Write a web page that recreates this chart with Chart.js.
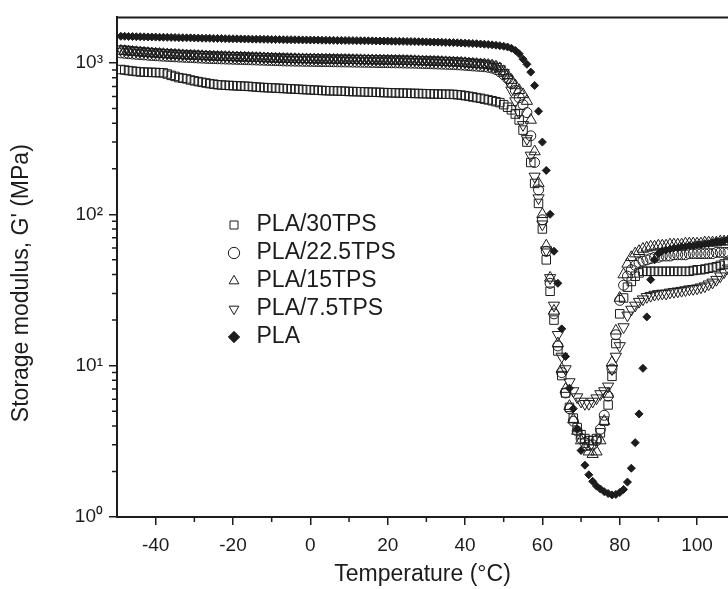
<!DOCTYPE html>
<html>
<head>
<meta charset="utf-8">
<script src="https://cdn.jsdelivr.net/npm/chart.js@4.4.1/dist/chart.umd.min.js"></script>
<style>
html,body{margin:0;padding:0;background:#fff;}
#wrap{width:728px;height:589px;position:relative;}
</style>
</head>
<body>
<div id="wrap"><canvas id="c" width="728" height="589"></canvas></div>
<script>
// ---------------- data ----------------
const temperature = [
-49,-48,-47,-46,-45,-44,-43,-42,-41,-40,
-39,-38,-37,-36,-35,-34,-33,-32,-31,-30,
-29,-28,-27,-26,-25,-24,-23,-22,-21,-20,
-19,-18,-17,-16,-15,-14,-13,-12,-11,-10,
-9,-8,-7,-6,-5,-4,-3,-2,-1,0,
1,2,3,4,5,6,7,8,9,10,
11,12,13,14,15,16,17,18,19,20,
21,22,23,24,25,26,27,28,29,30,
31,32,33,34,35,36,37,38,39,40,
41,42,43,44,45,46,47,48,49,50,
51,52,53,54,55,56,57,58,59,60,
61,62,63,64,65,66,67,68,69,70,
71,72,73,74,75,76,77,78,79,80,
81,82,83,84,85,86,87,88,89,90,
91,92,93,94,95,96,97,98,99,100,
101,102,103,104,105,106,107,108
];

const seriesNames = ['PLA/30TPS', 'PLA/22.5TPS', 'PLA/15TPS', 'PLA/7.5TPS', 'PLA'];

const pla30TPS = [
905,898,890,884,878,873,870,868,866,865,
862,860,845,828,815,800,792,785,772,762,
753,745,737,730,724,718,715,712,710,708,
706,704,702,700,697,693,690,688,686,684,
682,680,678,676,674,672,670,668,666,664,
662,660,658,656,655,654,653,652,650,648,
647,646,645,644,642,641,640,639,637,636,
635,634,633,632,631,630,629,628,627,626,
625,624,623,622,622,621,620,617,613,608,
602,596,590,584,577,570,563,555,547,530,
510,490,460,420,360,300,220,160,118,80,
50,31,20,12.5,8.6,6.6,5.3,4.5,3.9,3.5,
3.3,3.2,3.2,3.3,3.6,4.3,5.5,8.5,14,22,
28,33,36,39,41,42,42,42,42,42,
42,42,42,42,42,42,42,42,42.5,43,
43,43.5,44,44.5,45,46,47,48
];

const pla225TPS = [
1165,1158,1152,1146,1140,1135,1130,1125,1120,1116,
1112,1108,1104,1100,1097,1094,1091,1088,1085,1082,
1079,1076,1073,1070,1068,1066,1064,1062,1060,1058,
1056,1054,1052,1050,1048,1046,1044,1042,1040,1038,
1036,1034,1032,1030,1029,1028,1027,1026,1025,1024,
1023,1022,1021,1020,1019,1018,1017,1016,1015,1014,
1013,1012,1011,1010,1009,1008,1007,1006,1005,1004,
1003,1002,1001,1000,998,997,996,994,992,990,
988,986,984,982,980,978,975,972,969,965,
960,956,952,948,944,936,925,905,875,835,
790,730,660,590,530,470,330,220,145,92,
57,35,22,13.5,9,6.6,5.2,4.3,3.7,3.3,
3.1,3.0,3.0,3.2,3.8,4.7,6.3,9.5,16,27,
34,39,43,46,48,49,50,51,52,52,
53,53,53,54,54,54,54,55,55,55,
55,55,55,55,56,56,56,56
];

const pla15TPS = [
1200,1195,1188,1182,1176,1170,1165,1160,1155,1150,
1146,1142,1138,1134,1130,1126,1122,1119,1116,1113,
1110,1107,1104,1101,1098,1096,1094,1092,1090,1088,
1086,1084,1082,1080,1078,1076,1074,1072,1070,1068,
1066,1064,1062,1060,1059,1058,1057,1056,1055,1054,
1053,1052,1051,1050,1049,1048,1047,1046,1045,1044,
1043,1042,1041,1040,1039,1038,1037,1036,1035,1034,
1033,1032,1031,1030,1028,1027,1026,1024,1022,1020,
1018,1016,1014,1012,1010,1008,1005,1002,999,995,
990,986,982,978,975,968,960,945,920,880,
830,770,710,660,620,560,420,260,160,100,
62,38,23,14,9.5,7,5.4,4.4,3.7,3.2,
2.9,2.7,2.6,2.7,3.2,4.3,6.5,10.5,17,28,
40,47,52,55,57,59,60,61,61,62,
62,62,63,63,63,63,64,64,64,64,
64,65,65,65,65,66,66,66
];

const pla75TPS = [
1235,1228,1220,1213,1206,1200,1194,1188,1183,1178,
1173,1168,1164,1160,1156,1152,1148,1145,1142,1139,
1136,1133,1130,1127,1124,1122,1120,1118,1116,1114,
1112,1110,1108,1106,1104,1102,1100,1098,1096,1094,
1092,1090,1088,1086,1085,1084,1083,1082,1081,1080,
1079,1078,1077,1076,1075,1074,1073,1072,1071,1070,
1069,1068,1067,1066,1065,1064,1063,1062,1061,1060,
1059,1058,1057,1056,1055,1053,1051,1049,1047,1045,
1043,1041,1039,1037,1035,1032,1029,1026,1022,1018,
1013,1008,1003,997,990,980,965,945,910,860,
780,660,560,470,390,315,245,178,128,86,
58,38,25,16,11.5,9.5,7.8,6.8,6.2,5.8,
5.6,5.6,5.8,6.1,6.5,6.8,7.3,9.5,11.5,13.5,
18,21.5,23.5,25,26.5,27.5,28.5,29,29.5,29.8,
30,30,30.5,30.8,31,31.3,31.6,32,32.2,32.5,
33,33.5,34.5,35.5,37,39,41.5,44
];

const plaNeat = [
1500,1500,1495,1495,1490,1490,1488,1485,1485,1482,
1480,1478,1476,1475,1473,1470,1468,1466,1465,1462,
1460,1458,1456,1455,1453,1451,1450,1448,1446,1445,
1443,1442,1440,1439,1437,1436,1435,1433,1432,1430,
1429,1428,1426,1425,1424,1423,1421,1420,1419,1418,
1417,1416,1414,1413,1412,1411,1410,1409,1408,1407,
1405,1404,1403,1402,1401,1400,1398,1397,1396,1395,
1393,1392,1390,1389,1387,1386,1384,1382,1380,1378,
1376,1374,1372,1370,1367,1365,1362,1359,1356,1352,
1348,1344,1340,1335,1330,1324,1317,1309,1300,1290,
1275,1250,1210,1150,1060,980,870,710,480,300,
195,100,57,35,17.5,11.5,7.1,5.2,3.8,2.75,
2.2,1.9,1.72,1.6,1.53,1.47,1.43,1.4,1.41,1.45,
1.52,1.7,2.1,3.1,4.8,9.6,21,37,50,55,
57,58,59,60,60,61,61,62,62,63,
63,64,64,65,66,66,67,68
];

const xTickValues = [-40, -20, 0, 20, 40, 60, 80, 100];
const xMinorTicks = [-30, -10, 10, 30, 50, 70, 90];
const yTickValues = [1, 10, 100, 1000];
const yTickLabels = ['10\u2070', '10\u00B9', '10\u00B2', '10\u00B3'];
const yMinorTicks = [2,3,4,5,6,7,8,9,20,30,40,50,60,70,80,90,200,300,400,500,600,700,800,900];

// ---------------- chart ----------------
const FONT = "'Liberation Sans', Arial, Helvetica, sans-serif";
const INK = '#1c1c1c';
Chart.defaults.font.family = FONT;
Chart.defaults.color = INK;

const toPoints = vals => temperature.map((t, i) => ({x: t, y: vals[i]}));

const frameExtras = {
  id: 'frameExtras',
  afterDraw(chart) {
    const {ctx, chartArea: {left, right, top, bottom}, scales: {x, y}} = chart;
    ctx.save();
    ctx.strokeStyle = INK;
    ctx.lineWidth = 2;
    ctx.beginPath();
    ctx.moveTo(left - 1, top);
    ctx.lineTo(right, top);
    ctx.stroke();
    ctx.lineWidth = 1.5;
    ctx.beginPath();
    yMinorTicks.forEach(v => {
      const py = y.getPixelForValue(v);
      ctx.moveTo(left - 5, py);
      ctx.lineTo(left, py);
    });
    xMinorTicks.forEach(v => {
      const px = x.getPixelForValue(v);
      ctx.moveTo(px, bottom);
      ctx.lineTo(px, bottom + 5);
    });
    ctx.stroke();
    ctx.restore();
  }
};

const legendPlacer = {
  id: 'legendPlacer',
  afterUpdate(chart) {
    const lg = chart.legend;
    if (!lg) return;
    const w = lg.width, h = lg.height;
    lg.left = 218; lg.top = 208.5;
    lg.right = lg.left + w; lg.bottom = lg.top + h;
  }
};

const common = {pointBorderWidth: 1, pointBorderColor: INK, showLine: false, pointHoverRadius: 0};

new Chart(document.getElementById('c'), {
  type: 'scatter',
  data: {
    datasets: [
      Object.assign({label: seriesNames[0], data: toPoints(pla30TPS), pointStyle: 'rect', pointRadius: 6,
        pointBackgroundColor: 'rgba(255,255,255,0)'}, common),
      Object.assign({label: seriesNames[1], data: toPoints(pla225TPS), pointStyle: 'circle', pointRadius: 5,
        pointBackgroundColor: 'rgba(255,255,255,0)'}, common),
      Object.assign({label: seriesNames[2], data: toPoints(pla15TPS), pointStyle: 'triangle', pointRadius: 6.5,
        pointBackgroundColor: 'rgba(255,255,255,0)'}, common),
      Object.assign({label: seriesNames[3], data: toPoints(pla75TPS), pointStyle: 'triangle', pointRotation: 180, pointRadius: 6.5,
        pointBackgroundColor: 'rgba(255,255,255,0)'}, common),
      Object.assign({label: seriesNames[4], data: toPoints(plaNeat), pointStyle: 'rectRot', pointRadius: 4,
        pointBackgroundColor: INK}, common)
    ]
  },
  options: {
    responsive: false,
    animation: false,
    devicePixelRatio: 1,
    events: [],
    layout: {autoPadding: false, padding: {left: 0, right: 0, top: 14, bottom: 0}},
    plugins: {
      tooltip: {enabled: false},
      legend: {
        display: true,
        position: 'chartArea',
        align: 'start',
        labels: {
          usePointStyle: true,
          boxWidth: 22,
          boxHeight: 8,
          padding: 5,
          color: INK,
          font: {size: 23, family: FONT}
        }
      }
    },
    scales: {
      x: {
        type: 'linear',
        position: 'bottom',
        min: -50,
        max: 108,
        afterBuildTicks: s => { s.ticks = xTickValues.map(v => ({value: v})); },
        afterFit: s => { s.height = 72; s.paddingLeft = 0; s.paddingRight = 0; },
        ticks: {
          autoSkip: false, maxRotation: 0, padding: 9,
          font: {size: 19, family: FONT}, color: INK,
          callback: v => String(v)
        },
        grid: {display: true, drawOnChartArea: false, drawTicks: true, tickLength: 8, color: INK, lineWidth: 1.5},
        border: {display: true, color: INK, width: 2},
        title: {display: true, text: 'Temperature (\u00B0C)', color: INK, font: {size: 23, family: FONT}, padding: {top: 0, bottom: 1}}
      },
      y: {
        type: 'logarithmic',
        position: 'left',
        min: 1,
        max: 2000,
        afterBuildTicks: s => { s.ticks = yTickValues.map(v => ({value: v})); },
        afterFit: s => { s.width = 117; },
        ticks: {
          autoSkip: false, padding: 6,
          font: {size: 19, family: FONT}, color: INK,
          callback: v => { const k = yTickValues.indexOf(v); return k >= 0 ? yTickLabels[k] : ''; }
        },
        grid: {display: true, drawOnChartArea: false, drawTicks: true, tickLength: 8, color: INK, lineWidth: 1.5},
        border: {display: true, color: INK, width: 2},
        title: {display: true, text: "Storage modulus, G' (MPa)\u00A0\u00A0\u00A0\u00A0\u00A0", color: INK, font: {size: 23, family: FONT}, padding: {top: 8, bottom: 0}}
      }
    }
  },
  plugins: [frameExtras, legendPlacer]
});
</script>
</body>
</html>
